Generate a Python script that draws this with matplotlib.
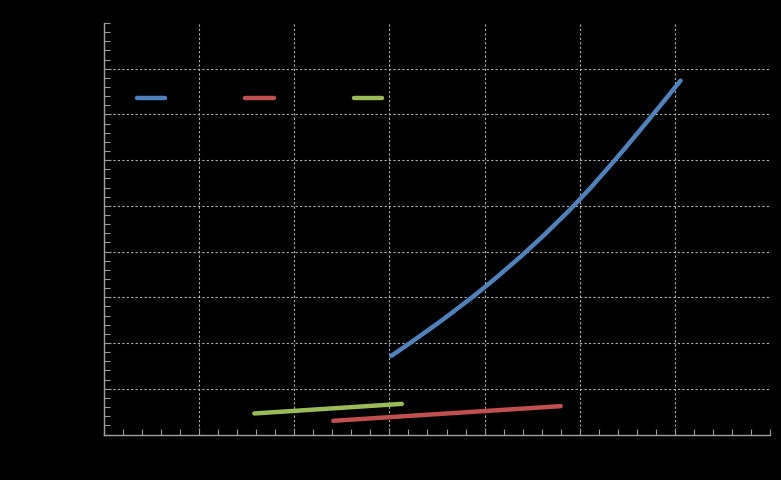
import matplotlib
matplotlib.use("Agg")
import matplotlib.pyplot as plt
from matplotlib.ticker import MultipleLocator, FixedLocator
from matplotlib.path import Path
from matplotlib.patches import PathPatch
from matplotlib.lines import Line2D

# Data
blue_x = [3.02, 3.5, 4.0, 4.5, 5.0, 5.5, 6.06]
blue_y = [1.72, 2.42, 3.22, 4.12, 5.14, 6.32, 7.74]
red_x = [2.41, 4.80]
red_y = [0.30, 0.62]
green_x = [1.58, 3.13]
green_y = [0.46, 0.67]
series_labels = ["", "", ""]
colors = ["#4F81BD", "#C0504D", "#9BBB59"]


def smooth_path(xs, ys, t=1 / 6):
    """Catmull-Rom style Bezier path through the data points (Excel smoothing)."""
    pts = list(zip(xs, ys))
    verts = [pts[0]]
    codes = [Path.MOVETO]
    n = len(pts)
    for i in range(n - 1):
        p0 = pts[i - 1] if i > 0 else pts[i]
        p1 = pts[i]
        p2 = pts[i + 1]
        p3 = pts[i + 2] if i + 2 < n else pts[i + 1]
        c1 = (p1[0] + (p2[0] - p0[0]) * t, p1[1] + (p2[1] - p0[1]) * t)
        c2 = (p2[0] - (p3[0] - p1[0]) * t, p2[1] - (p3[1] - p1[1]) * t)
        verts += [c1, c2, p2]
        codes += [Path.CURVE4] * 3
    return Path(verts, codes)


W, H = 781, 481
fig = plt.figure(figsize=(W / 100, H / 100), dpi=100, facecolor="black")
ax = fig.add_axes([104 / W, 45.5 / H, (770 - 104) / W, (435.5 - 24) / H])
ax.set_facecolor("black")

lw = 3.2
handles = []
for xs, ys, c in [(blue_x, blue_y, colors[0]), (red_x, red_y, colors[1]),
                  (green_x, green_y, colors[2])]:
    patch = PathPatch(smooth_path(xs, ys), fill=False, edgecolor=c, lw=lw,
                      capstyle="round", joinstyle="round", zorder=3)
    ax.add_patch(patch)
    handles.append(Line2D([], [], color=c, lw=lw, solid_capstyle="round"))

ax.set_xlim(0, 7)
ax.set_ylim(0, 9)
ax.xaxis.set_major_locator(FixedLocator([1, 2, 3, 4, 5, 6]))
ax.xaxis.set_minor_locator(MultipleLocator(0.2))
ax.yaxis.set_major_locator(FixedLocator([1, 2, 3, 4, 5, 6, 7, 8]))
ax.yaxis.set_minor_locator(MultipleLocator(0.2))
ax.tick_params(which="both", direction="in", colors="#9a9a9a",
               labelbottom=False, labelleft=False)
ax.tick_params(which="major", length=5, width=0.8)
ax.tick_params(which="minor", length=4, width=0.8)
ax.grid(True, which="major", color="#b0b0b0", linestyle=(0, (2, 2)), lw=0.8)
ax.set_axisbelow(True)
for s in ["top", "right"]:
    ax.spines[s].set_visible(False)
for s in ["left", "bottom"]:
    ax.spines[s].set_color("#a0a0a0")
    ax.spines[s].set_linewidth(1.0)

leg = ax.legend(handles, series_labels, ncol=3, frameon=False,
                loc="center left", bbox_to_anchor=(137 / W, 1 - 100 / H),
                bbox_transform=fig.transFigure, borderpad=0, borderaxespad=0,
                handlelength=2.05, handletextpad=0, columnspacing=5.75)

fig.savefig("out.png", dpi=100, facecolor="black")
